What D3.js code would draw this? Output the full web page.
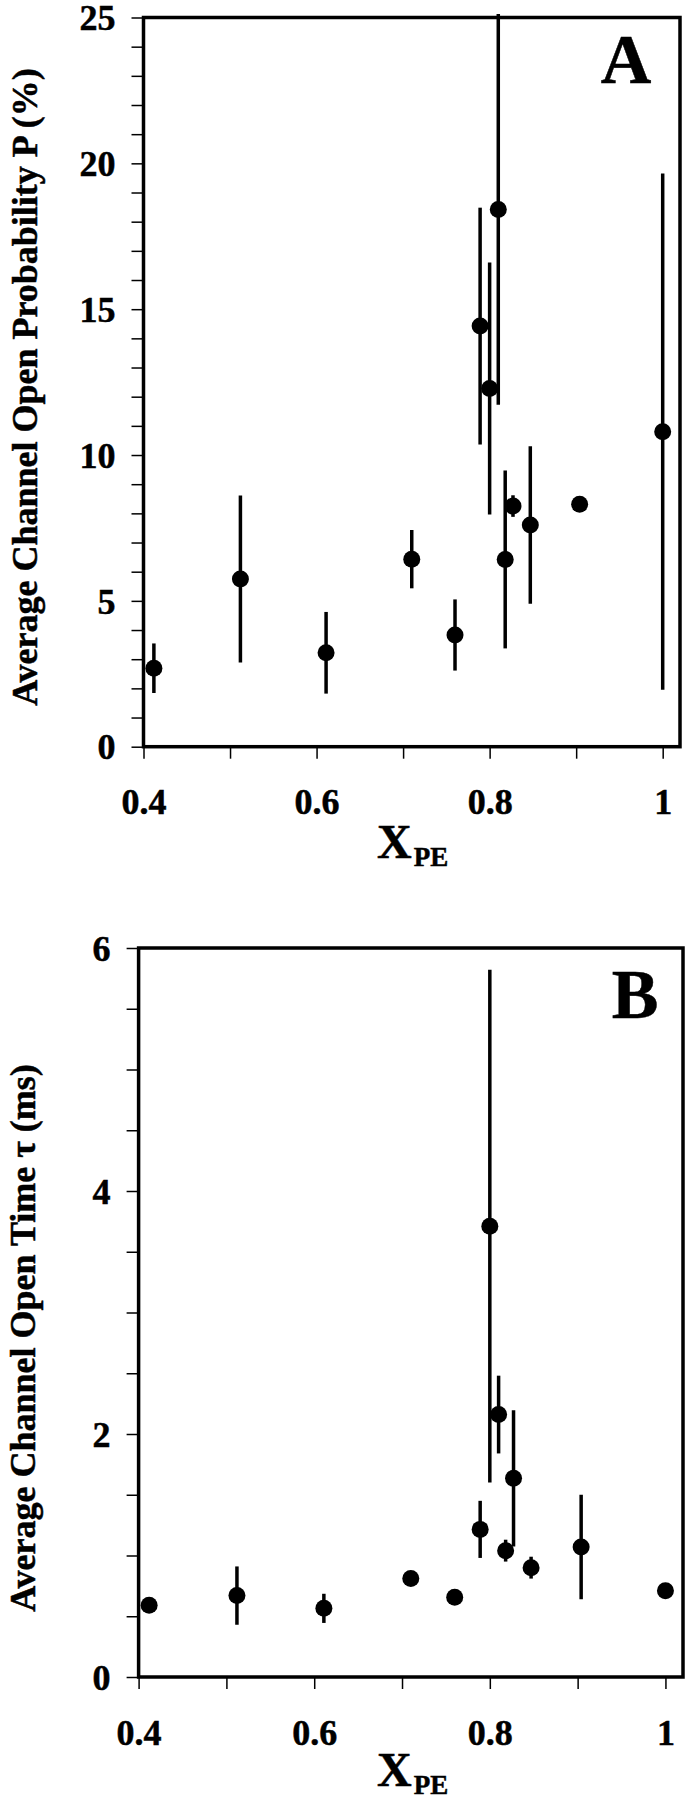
<!DOCTYPE html>
<html lang="en">
<head>
  <meta charset="UTF-8">
  <title>Channel open probability and open time vs X_PE</title>
  <script src="https://d3js.org/d3.v7.min.js"></script>
  <style>
    body { margin: 0; background: #fff; }
    text { font-family: "Liberation Serif", "Times New Roman", serif; font-weight: bold; fill: #000; stroke: #000; stroke-width: 0.5px; }
  </style>
</head>
<body>

<svg id="chart" width="690" height="1800"></svg>

<script>
  // mole fraction of PE, shared by both panels
  var xpe = [0.412, 0.512, 0.611, 0.710, 0.760, 0.789, 0.800, 0.810, 0.818, 0.827, 0.847, 0.904, 1.0];

  // panel A: open probability (%)
  var probValues = [2.69, 5.75, 3.22, 6.43, 3.83, 14.42, 12.28, 18.42, 6.42, 8.25, 7.60, 8.31, 10.80];
  var probErrors = [0.85, 2.86, 1.40, 1.00, 1.22, 4.06, 4.32, 6.70, 3.05, 0.37, 2.70, 0, 8.85];

  // panel B: open time (ms)
  var timeValues = [0.59, 0.67, 0.565, 0.81, 0.656, 1.215, 3.71, 2.16, 1.04, 1.635, 0.90, 1.07, 0.71];
  var timeErrors = [0, 0.24, 0.12, 0, 0, 0.235, 2.11, 0.32, 0.09, 0.56, 0.09, 0.43, 0];

  var xTickLabels = [0.4, 0.6, 0.8, 1];

  var svg = d3.select('#chart');

  function drawPanel(p) {
    var x = d3.scaleLinear().domain([0.4, 1.02]).range([p.left, p.right]);
    var y = d3.scaleLinear().domain([0, p.ymax]).range([p.bottom, p.top]);
    var g = svg.append('g');

    // y axis, minor ticks everywhere, labels only on majors
    var yAxis = d3.axisLeft(y)
      .tickValues(d3.range(0, p.ymax + p.minor / 2, p.minor))
      .tickSize(12)
      .tickPadding(16)
      .tickFormat(function (d) { return Math.abs(d / p.major - Math.round(d / p.major)) < 1e-6 ? d3.format('d')(d) : ''; });
    var ya = g.append('g').attr('transform', 'translate(' + p.left + ',0)').call(yAxis);
    ya.select('.domain').remove();
    ya.selectAll('line').attr('stroke-width', 1.5);
    ya.selectAll('text').style('font-size', '36px').attr('dy', '0.34em');

    var xAxis = d3.axisBottom(x)
      .tickValues(d3.range(0.4, 1.001, 0.1))
      .tickSize(12)
      .tickPadding(30)
      .tickFormat(function (d) {
        var hit = xTickLabels.find(function (t) { return Math.abs(t - d) < 1e-6; });
        return hit === undefined ? '' : String(hit);
      });
    var xa = g.append('g').attr('transform', 'translate(0,' + p.bottom + ')').call(xAxis);
    xa.select('.domain').remove();
    xa.selectAll('line').attr('stroke-width', 1.5);
    xa.selectAll('text').style('font-size', '36px');

    // frame
    g.append('rect')
      .attr('x', p.left).attr('y', p.top)
      .attr('width', p.right - p.left).attr('height', p.bottom - p.top)
      .attr('fill', 'none').attr('stroke', '#000').attr('stroke-width', 3.5);

    var pts = p.values.map(function (v, i) { return { x: xpe[i], v: v, e: p.errors[i] }; });

    g.selectAll('line.err')
      .data(pts.filter(function (d) { return d.e > 0; }))
      .enter().append('line')
      .attr('class', 'err')
      .attr('x1', function (d) { return x(d.x); })
      .attr('x2', function (d) { return x(d.x); })
      .attr('y1', function (d) { return y(d.v - d.e); })
      .attr('y2', function (d) { return y(d.v + d.e); })
      .attr('stroke', '#000').attr('stroke-width', 3.5);

    g.selectAll('circle.pt')
      .data(pts)
      .enter().append('circle')
      .attr('class', 'pt')
      .attr('cx', function (d) { return x(d.x); })
      .attr('cy', function (d) { return y(d.v); })
      .attr('r', 8.5)
      .attr('fill', '#000');

    // panel letter
    g.append('text')
      .attr('x', p.letterX).attr('y', p.letterY)
      .attr('text-anchor', 'middle')
      .style('font-size', '70px')
      .text(p.letter);

    // y title
    g.append('text')
      .attr('transform', 'translate(' + p.ytitleX + ',' + p.ytitleY + ') rotate(-90)')
      .attr('text-anchor', 'middle')
      .style('font-size', '36px')
      .text(p.ytitle);

    // x title X_PE
    var xt = g.append('text').attr('x', 377).attr('y', p.xtitleY);
    xt.append('tspan').style('font-size', '48px').text('X');
    xt.append('tspan').attr('dx', 2).attr('dy', 8).style('font-size', '27px').text('PE');
  }

  drawPanel({
    left: 143.5, right: 680, top: 17.5, bottom: 746.7,
    ymax: 25, minor: 1, major: 5,
    values: probValues, errors: probErrors,
    letter: 'A', letterX: 626, letterY: 83,
    ytitle: 'Average Channel Open Probability P (%)', ytitleX: 37, ytitleY: 387,
    xtitleY: 858
  });

  drawPanel({
    left: 138.6, right: 683, top: 948, bottom: 1677,
    ymax: 6, minor: 0.5, major: 2,
    values: timeValues, errors: timeErrors,
    letter: 'B', letterX: 635, letterY: 1018,
    ytitle: 'Average Channel Open Time \u03C4 (ms)', ytitleX: 35, ytitleY: 1338,
    xtitleY: 1786
  });
</script>

</body>
</html>
